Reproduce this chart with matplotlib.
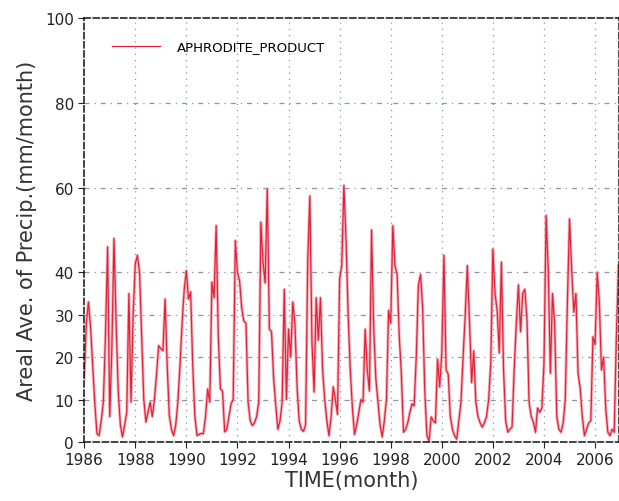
import numpy as np
import matplotlib
matplotlib.use("Agg")
import matplotlib.pyplot as plt

# monthly areal average precipitation (mm/month)
p1986 = [15, 28, 33, 27, 18, 9, 2, 1.5, 5, 9.4, 25, 46]
p1987 = [6, 22, 48, 28, 12, 4, 1.2, 4, 7, 35, 9.4, 30]
p1988 = [42, 44, 40, 25, 10, 4.7, 7, 9.4, 6, 10, 16, 22.7]
p1989 = [22, 21.5, 33.7, 18, 6.2, 3, 1.5, 4, 9.4, 18, 28, 36]
p1990 = [40.4, 33.7, 35.4, 18, 6, 1.5, 1.8, 2, 2, 6, 12.5, 9.4]
p1991 = [37.7, 34, 51, 25, 12.5, 12, 2.4, 3, 6, 9, 10, 47.5]
p1992 = [40, 38, 31.6, 28.5, 28, 9.4, 5, 3.9, 4.5, 6, 9.4, 51.8]
p1993 = [42.5, 37.5, 59.7, 26.6, 26, 15, 8.6, 3, 5, 9.4, 36, 10]
p1994 = [26.6, 20, 33, 28, 13, 5, 3, 2.5, 4, 42.4, 58, 23.5]
p1995 = [11.8, 34, 24, 34, 17, 10, 5, 1.5, 6, 13, 10, 6.5]
p1996 = [38.5, 41.6, 60.5, 48, 30, 17, 8, 1.8, 4, 7, 10, 9.4]
p1997 = [26.6, 17, 12, 50, 27, 15, 9.4, 4, 1.2, 5, 10, 31]
p1998 = [28, 51, 41.6, 39.5, 25, 16, 2.3, 3, 4.5, 7, 9, 8.5]
p1999 = [20, 37, 39.5, 31.6, 12, 1.5, 0.2, 5.9, 5, 4.5, 19.5, 13]
p2000 = [21, 44, 17, 16, 6, 3, 1.5, 0.7, 5, 9.4, 20, 30]
p2001 = [41.6, 28.5, 14, 21.5, 9.4, 6, 4.5, 3.5, 4.5, 6, 10, 18.5]
p2002 = [45.5, 35, 31, 21, 42.4, 17, 5, 2.3, 3, 3.5, 17, 28]
p2003 = [37, 26, 35, 36, 29, 9.4, 6, 4.7, 2.3, 8, 7, 8]
p2004 = [18.5, 53.4, 40.7, 16.2, 35, 28, 6, 3, 2.3, 4.5, 10, 33]
p2005 = [52.6, 40.7, 30.6, 35, 16.2, 12.7, 6, 1.5, 3, 4.5, 5, 24.8]
p2006 = [23, 40, 33, 17, 20, 8, 2.3, 1.5, 3, 2.3, 24.8, 41.6]

years = [p1986, p1987, p1988, p1989, p1990, p1991, p1992, p1993, p1994, p1995, p1996,
         p1997, p1998, p1999, p2000, p2001, p2002, p2003, p2004, p2005, p2006]
precip = np.concatenate([np.array(y, dtype=float) for y in years])
time = 1986 + np.arange(len(precip)) / 12.0

xticks = list(range(1986, 2007, 2))
yticks = [0, 10, 20, 30, 40, 60, 80, 100]

fig = plt.figure(figsize=(6.19, 5.02), dpi=100)
ax = fig.add_axes([0.136, 0.1175, 0.864, 0.845])

# soft pink halo under the red line, like the blurred original
ax.plot(time, precip, color='#f2a3ab', lw=2.2, alpha=0.8, solid_joinstyle='round')
ax.plot(time, precip, color='#e6203a', lw=0.9, label='APHRODITE_PRODUCT')

ax.set_xlim(1986, time[-1] + 0.02)
ax.set_ylim(0, 100)
ax.set_xticks(xticks)
ax.set_yticks(yticks)
ax.tick_params(direction='out', length=4, width=0.8, labelsize=11, colors='#222222')

for x in xticks[1:]:
    ax.axvline(x, color='#8a96a8', lw=0.9, ls=(0, (1, 4)), zorder=0)
for y in yticks[1:-1]:
    ax.axhline(y, color='#8a96a8', lw=0.9, ls=(0, (4, 4, 1, 4)), zorder=0)

for s in ax.spines.values():
    s.set_linestyle((0, (4, 2)))
    s.set_linewidth(1.1)
    s.set_color('#111111')

ax.set_xlabel('TIME(month)', fontsize=15, color='#333333', labelpad=2)
ax.set_ylabel('Areal Ave. of Precip.(mm/month)', fontsize=15, color='#333333', labelpad=6)

ax.legend(loc='upper left', bbox_to_anchor=(0.03, 0.975), frameon=False,
          fontsize=9.5, handlelength=3.6, handletextpad=1.3)

fig.savefig('out.png', dpi=100)
